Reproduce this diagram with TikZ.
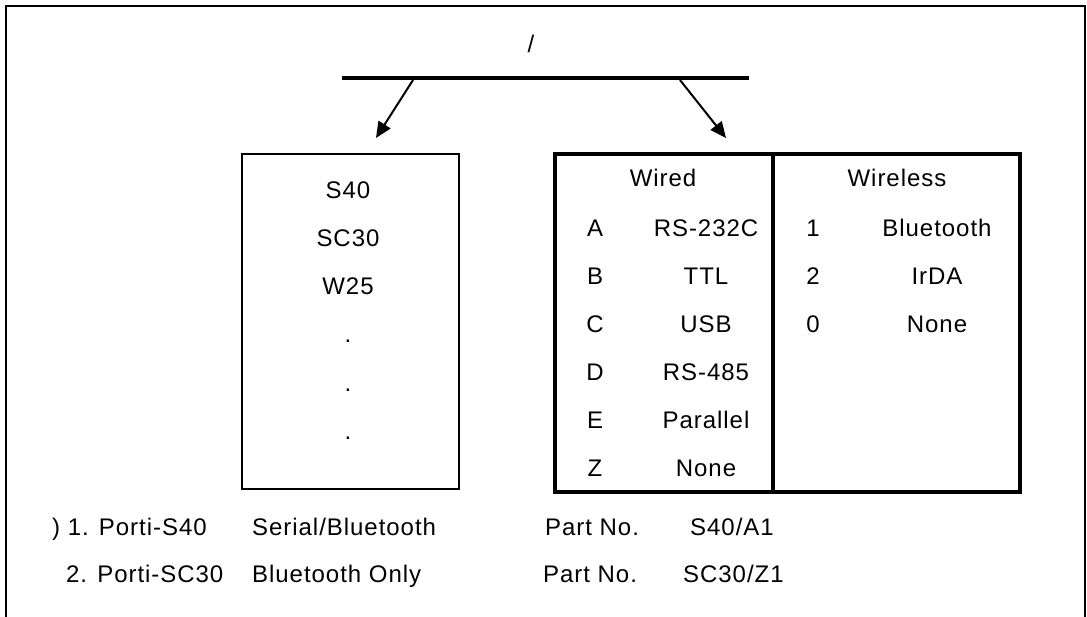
\documentclass[tikz,border=0pt]{standalone}
\usepackage{fontspec}
\setmainfont[LetterSpace=4]{Liberation Sans}
\usetikzlibrary{arrows.meta}

\begin{document}
\begin{tikzpicture}[x=1pt, y=-1pt,
        every node/.style={font=\fontsize{24}{28}\selectfont, inner sep=0pt},
        lbl/.style={anchor=base},
        lblw/.style={anchor=base west},
        arr/.style={line width=2pt, -{Triangle[length=16pt, width=14pt]}}]
        \clip (0,0) rectangle (1087,616);
        \draw[line width=2.5pt] (6,660) -- (6,6) -- (1085,6) -- (1085,660);

        % title and branching bar
        \node (title) at (531,44) {/};
        \draw[line width=4.5pt] (342,78) coordinate (barW) -- (749,78) coordinate (barE);
        \coordinate (barL) at (413,80);
        \coordinate (barR) at (680,80);
        \coordinate (tipL) at (376,138);
        \coordinate (tipR) at (726,138);
        \draw[arr] (barL) -- (tipL);
        \draw[arr] (barR) -- (tipR);

        % model box
        \node[draw, line width=1.6pt, anchor=north west, minimum width=217, minimum height=335] (models) at (241,153) {};
        \foreach \t [count=\i] in {S40,SC30,W25,.,.,.}
            \node[lbl] (m\i) at (348,{149.7+48.3*\i}) {\t};

        % port table
        \node[draw, line width=3.5pt, anchor=north west, minimum width=465, minimum height=338] (ports) at (553,152) {};
        \coordinate (divN) at (773,152);
        \coordinate (divS) at (773,490);
        \draw[line width=3.5pt] (divN) -- (divS);
        \node[lbl] (wired) at (663,186) {Wired};
        \node[lbl] (wireless) at (897,186) {Wireless};
        \foreach \k/\v [count=\i] in {A/RS-232C, B/TTL, C/USB, D/RS-485, E/Parallel, Z/None} {
            \node[lbl] (wk\i) at (595,{188+48*\i}) {\k};
            \node[lbl] (wv\i) at (706,{188+48*\i}) {\v};
        }
        \foreach \k/\v [count=\i] in {1/Bluetooth, 2/IrDA, 0/None} {
            \node[lbl] (rk\i) at (813,{188+48*\i}) {\k};
            \node[lbl] (rv\i) at (937,{188+48*\i}) {\v};
        }

        % examples
        \node[lblw] (ex1) at (52,535) {) 1. Porti-S40};
        \node[lblw] (ex1d) at (252,535) {Serial/Bluetooth};
        \node[lblw] (pn1) at (545,535) {Part No.};
        \node[lblw] (no1) at (690,535) {S40/A1};
        \node[lblw] (ex2) at (66,582) {2. Porti-SC30};
        \node[lblw] (ex2d) at (252,582) {Bluetooth Only};
        \node[lblw] (pn2) at (543,582) {Part No.};
        \node[lblw] (no2) at (683,582) {SC30/Z1};
    \end{tikzpicture}
\end{document}
